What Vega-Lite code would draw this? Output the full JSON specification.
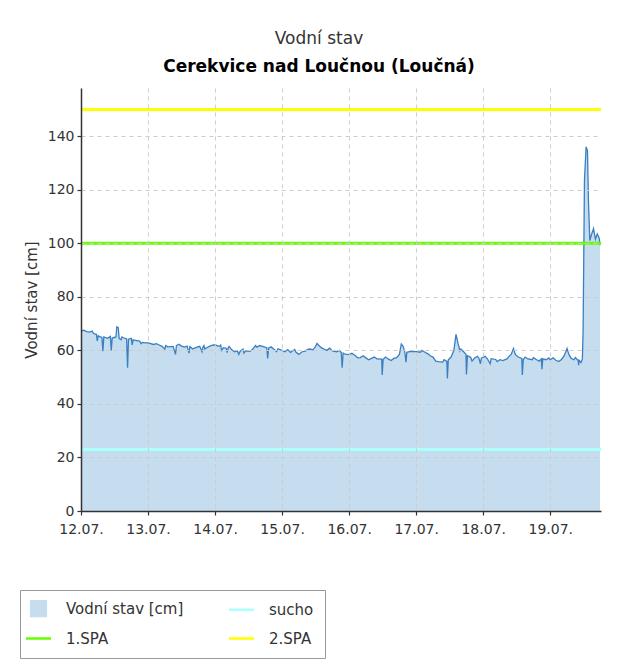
{
  "$schema": "https://vega.github.io/schema/vega-lite/v6.json",
  "width": 520,
  "height": 423,
  "autosize": {"type": "none"},
  "padding": {"left": 81, "top": 88, "right": 30, "bottom": 155},
  "background": "white",
  "title": {
    "text": "Vodní stav",
    "subtitle": "Cerekvice nad Loučnou (Loučná)",
    "font": "DejaVu Sans",
    "fontSize": 17,
    "fontWeight": "normal",
    "color": "#333333",
    "subtitleFont": "DejaVu Sans",
    "subtitleFontSize": 17,
    "subtitleFontWeight": "bold",
    "subtitleColor": "#000000",
    "anchor": "middle",
    "frame": "group",
    "dx": -22,
    "offset": 12,
    "subtitlePadding": 11
  },
  "config": {
    "view": {"stroke": null},
    "axis": {
      "labelFont": "DejaVu Sans",
      "titleFont": "DejaVu Sans",
      "labelColor": "#333333",
      "titleColor": "#333333",
      "domainColor": "#333333",
      "domainWidth": 1.5,
      "gridColor": "#cccccc",
      "gridDash": [4, 4]
    }
  },
  "datasets": {
    "level": [
      {"t": "2024-07-12T00:00", "v": 67.3},
      {"t": "2024-07-12T02:00", "v": 67.0},
      {"t": "2024-07-12T04:00", "v": 67.2},
      {"t": "2024-07-12T04:30", "v": 66.3},
      {"t": "2024-07-12T05:30", "v": 66.0},
      {"t": "2024-07-12T06:30", "v": 65.2},
      {"t": "2024-07-12T07:30", "v": 64.8},
      {"t": "2024-07-12T07:50", "v": 59.7},
      {"t": "2024-07-12T08:10", "v": 65.0},
      {"t": "2024-07-12T09:30", "v": 64.5},
      {"t": "2024-07-12T10:30", "v": 65.2},
      {"t": "2024-07-12T10:50", "v": 60.0},
      {"t": "2024-07-12T11:10", "v": 64.6},
      {"t": "2024-07-12T12:30", "v": 65.0},
      {"t": "2024-07-12T12:50", "v": 68.8},
      {"t": "2024-07-12T13:20", "v": 68.5},
      {"t": "2024-07-12T13:40", "v": 64.5},
      {"t": "2024-07-12T15:00", "v": 64.8},
      {"t": "2024-07-12T16:20", "v": 64.3},
      {"t": "2024-07-12T16:40", "v": 53.5},
      {"t": "2024-07-12T17:00", "v": 64.2},
      {"t": "2024-07-12T19:00", "v": 63.8},
      {"t": "2024-07-12T21:00", "v": 63.5},
      {"t": "2024-07-12T21:30", "v": 62.5},
      {"t": "2024-07-12T23:00", "v": 62.8},
      {"t": "2024-07-13T00:00", "v": 62.8},
      {"t": "2024-07-13T02:00", "v": 62.2},
      {"t": "2024-07-13T04:00", "v": 62.0},
      {"t": "2024-07-13T05:00", "v": 61.5},
      {"t": "2024-07-13T07:00", "v": 61.3},
      {"t": "2024-07-13T09:00", "v": 61.5},
      {"t": "2024-07-13T09:50", "v": 58.5},
      {"t": "2024-07-13T10:10", "v": 61.8},
      {"t": "2024-07-13T12:00", "v": 61.6},
      {"t": "2024-07-13T13:00", "v": 61.2},
      {"t": "2024-07-13T14:00", "v": 61.6},
      {"t": "2024-07-13T14:40", "v": 59.0},
      {"t": "2024-07-13T15:00", "v": 61.4},
      {"t": "2024-07-13T17:00", "v": 61.0},
      {"t": "2024-07-13T18:30", "v": 61.5},
      {"t": "2024-07-13T19:20", "v": 59.5},
      {"t": "2024-07-13T19:40", "v": 61.3},
      {"t": "2024-07-13T21:00", "v": 61.0},
      {"t": "2024-07-13T22:30", "v": 61.8},
      {"t": "2024-07-13T23:30", "v": 62.0},
      {"t": "2024-07-14T00:00", "v": 62.0},
      {"t": "2024-07-14T01:30", "v": 61.5},
      {"t": "2024-07-14T03:00", "v": 61.0},
      {"t": "2024-07-14T04:00", "v": 60.8},
      {"t": "2024-07-14T04:20", "v": 59.2},
      {"t": "2024-07-14T04:40", "v": 60.8},
      {"t": "2024-07-14T06:00", "v": 60.2},
      {"t": "2024-07-14T07:00", "v": 59.5},
      {"t": "2024-07-14T08:00", "v": 59.8},
      {"t": "2024-07-14T08:30", "v": 58.5},
      {"t": "2024-07-14T09:00", "v": 59.7},
      {"t": "2024-07-14T11:00", "v": 59.8},
      {"t": "2024-07-14T12:30", "v": 59.6},
      {"t": "2024-07-14T13:30", "v": 60.5},
      {"t": "2024-07-14T15:00", "v": 61.2},
      {"t": "2024-07-14T16:00", "v": 61.8},
      {"t": "2024-07-14T17:00", "v": 61.5},
      {"t": "2024-07-14T18:30", "v": 61.0},
      {"t": "2024-07-14T18:50", "v": 57.0},
      {"t": "2024-07-14T19:10", "v": 60.8},
      {"t": "2024-07-14T21:00", "v": 60.5},
      {"t": "2024-07-14T22:30", "v": 60.6},
      {"t": "2024-07-14T23:30", "v": 60.2},
      {"t": "2024-07-15T00:00", "v": 60.0},
      {"t": "2024-07-15T01:00", "v": 59.5},
      {"t": "2024-07-15T03:00", "v": 59.2},
      {"t": "2024-07-15T04:30", "v": 60.3},
      {"t": "2024-07-15T05:00", "v": 59.3},
      {"t": "2024-07-15T07:00", "v": 59.4},
      {"t": "2024-07-15T08:30", "v": 59.8},
      {"t": "2024-07-15T10:00", "v": 60.5},
      {"t": "2024-07-15T12:00", "v": 61.5},
      {"t": "2024-07-15T12:30", "v": 62.6},
      {"t": "2024-07-15T13:00", "v": 62.0},
      {"t": "2024-07-15T14:00", "v": 61.0},
      {"t": "2024-07-15T15:00", "v": 60.5},
      {"t": "2024-07-15T16:00", "v": 60.0},
      {"t": "2024-07-15T18:00", "v": 59.8},
      {"t": "2024-07-15T19:30", "v": 59.5},
      {"t": "2024-07-15T21:10", "v": 59.2},
      {"t": "2024-07-15T21:30", "v": 53.5},
      {"t": "2024-07-15T21:50", "v": 59.0},
      {"t": "2024-07-15T22:30", "v": 58.6},
      {"t": "2024-07-15T23:30", "v": 58.5},
      {"t": "2024-07-16T00:00", "v": 58.4},
      {"t": "2024-07-16T02:30", "v": 57.8},
      {"t": "2024-07-16T04:00", "v": 57.3},
      {"t": "2024-07-16T06:00", "v": 57.2},
      {"t": "2024-07-16T08:00", "v": 57.0},
      {"t": "2024-07-16T10:00", "v": 56.8},
      {"t": "2024-07-16T11:40", "v": 56.7},
      {"t": "2024-07-16T11:50", "v": 50.8},
      {"t": "2024-07-16T12:10", "v": 56.6},
      {"t": "2024-07-16T14:00", "v": 56.8},
      {"t": "2024-07-16T16:00", "v": 57.0},
      {"t": "2024-07-16T17:00", "v": 57.3},
      {"t": "2024-07-16T18:00", "v": 58.5},
      {"t": "2024-07-16T18:40", "v": 62.4},
      {"t": "2024-07-16T19:20", "v": 61.5},
      {"t": "2024-07-16T20:00", "v": 59.0},
      {"t": "2024-07-16T20:20", "v": 55.6},
      {"t": "2024-07-16T20:40", "v": 59.3},
      {"t": "2024-07-16T22:00", "v": 59.6},
      {"t": "2024-07-17T00:00", "v": 59.5},
      {"t": "2024-07-17T01:30", "v": 59.3},
      {"t": "2024-07-17T03:00", "v": 59.4},
      {"t": "2024-07-17T04:30", "v": 58.5},
      {"t": "2024-07-17T06:00", "v": 57.5},
      {"t": "2024-07-17T07:00", "v": 56.0},
      {"t": "2024-07-17T08:00", "v": 55.8},
      {"t": "2024-07-17T09:30", "v": 55.6},
      {"t": "2024-07-17T11:00", "v": 55.9},
      {"t": "2024-07-17T11:10", "v": 49.5},
      {"t": "2024-07-17T11:30", "v": 56.5},
      {"t": "2024-07-17T12:30", "v": 57.5},
      {"t": "2024-07-17T13:30", "v": 60.0},
      {"t": "2024-07-17T14:15", "v": 66.0},
      {"t": "2024-07-17T15:00", "v": 62.5},
      {"t": "2024-07-17T15:40", "v": 59.8},
      {"t": "2024-07-17T17:00", "v": 59.5},
      {"t": "2024-07-17T17:50", "v": 58.5},
      {"t": "2024-07-17T18:00", "v": 51.0},
      {"t": "2024-07-17T18:20", "v": 58.0},
      {"t": "2024-07-17T19:30", "v": 57.4},
      {"t": "2024-07-17T21:00", "v": 57.2},
      {"t": "2024-07-17T22:30", "v": 57.0},
      {"t": "2024-07-17T23:00", "v": 55.0},
      {"t": "2024-07-17T23:20", "v": 57.1},
      {"t": "2024-07-18T01:30", "v": 56.8},
      {"t": "2024-07-18T02:30", "v": 55.0},
      {"t": "2024-07-18T02:50", "v": 56.9},
      {"t": "2024-07-18T04:30", "v": 56.6},
      {"t": "2024-07-18T06:00", "v": 56.5},
      {"t": "2024-07-18T07:00", "v": 56.2},
      {"t": "2024-07-18T08:30", "v": 56.8},
      {"t": "2024-07-18T10:00", "v": 58.5},
      {"t": "2024-07-18T10:50", "v": 60.7},
      {"t": "2024-07-18T11:30", "v": 58.5},
      {"t": "2024-07-18T12:30", "v": 57.5},
      {"t": "2024-07-18T13:50", "v": 57.0},
      {"t": "2024-07-18T14:00", "v": 50.8},
      {"t": "2024-07-18T14:20", "v": 56.5},
      {"t": "2024-07-18T16:00", "v": 56.8},
      {"t": "2024-07-18T17:30", "v": 56.5},
      {"t": "2024-07-18T19:00", "v": 56.6},
      {"t": "2024-07-18T20:50", "v": 56.8},
      {"t": "2024-07-18T21:00", "v": 53.0},
      {"t": "2024-07-18T21:20", "v": 56.8},
      {"t": "2024-07-18T22:30", "v": 56.5},
      {"t": "2024-07-19T00:00", "v": 56.5},
      {"t": "2024-07-19T02:00", "v": 56.3},
      {"t": "2024-07-19T04:00", "v": 56.6},
      {"t": "2024-07-19T05:00", "v": 58.0},
      {"t": "2024-07-19T06:00", "v": 60.7},
      {"t": "2024-07-19T06:40", "v": 58.5},
      {"t": "2024-07-19T07:30", "v": 57.0},
      {"t": "2024-07-19T08:30", "v": 56.5},
      {"t": "2024-07-19T10:00", "v": 56.2},
      {"t": "2024-07-19T10:10", "v": 54.5},
      {"t": "2024-07-19T10:20", "v": 56.3},
      {"t": "2024-07-19T11:30", "v": 56.8},
      {"t": "2024-07-19T11:45", "v": 66.9},
      {"t": "2024-07-19T12:15", "v": 123.5},
      {"t": "2024-07-19T12:50", "v": 136.0},
      {"t": "2024-07-19T13:20", "v": 134.5},
      {"t": "2024-07-19T13:40", "v": 116.0},
      {"t": "2024-07-19T14:10", "v": 101.0},
      {"t": "2024-07-19T14:40", "v": 103.0},
      {"t": "2024-07-19T15:30", "v": 105.5},
      {"t": "2024-07-19T16:10", "v": 101.5},
      {"t": "2024-07-19T16:50", "v": 103.5},
      {"t": "2024-07-19T17:30", "v": 102.0},
      {"t": "2024-07-19T17:50", "v": 99.3},
      {"t": "2024-07-12T01:00", "v": 67.5},
      {"t": "2024-07-12T03:00", "v": 66.8},
      {"t": "2024-07-12T05:50", "v": 63.5},
      {"t": "2024-07-12T06:10", "v": 65.5},
      {"t": "2024-07-12T14:20", "v": 64.0},
      {"t": "2024-07-12T14:40", "v": 65.0},
      {"t": "2024-07-12T18:00", "v": 64.5},
      {"t": "2024-07-12T18:20", "v": 62.0},
      {"t": "2024-07-12T18:40", "v": 64.0},
      {"t": "2024-07-12T22:00", "v": 63.0},
      {"t": "2024-07-13T03:00", "v": 62.5},
      {"t": "2024-07-13T06:00", "v": 60.5},
      {"t": "2024-07-13T06:20", "v": 61.8},
      {"t": "2024-07-13T11:00", "v": 62.3},
      {"t": "2024-07-13T16:00", "v": 60.5},
      {"t": "2024-07-13T20:00", "v": 61.8},
      {"t": "2024-07-13T20:20", "v": 60.5},
      {"t": "2024-07-14T02:00", "v": 62.0},
      {"t": "2024-07-14T02:20", "v": 60.0},
      {"t": "2024-07-14T05:00", "v": 61.5},
      {"t": "2024-07-14T10:00", "v": 60.5},
      {"t": "2024-07-14T10:20", "v": 59.0},
      {"t": "2024-07-14T14:30", "v": 61.8},
      {"t": "2024-07-14T20:00", "v": 61.3},
      {"t": "2024-07-14T22:00", "v": 59.5},
      {"t": "2024-07-15T02:00", "v": 60.3},
      {"t": "2024-07-15T06:00", "v": 58.5},
      {"t": "2024-07-15T09:00", "v": 60.3},
      {"t": "2024-07-15T11:00", "v": 60.2},
      {"t": "2024-07-15T17:00", "v": 60.8},
      {"t": "2024-07-15T20:30", "v": 60.0},
      {"t": "2024-07-16T01:00", "v": 58.9},
      {"t": "2024-07-16T03:00", "v": 57.2},
      {"t": "2024-07-16T05:00", "v": 58.0},
      {"t": "2024-07-16T07:00", "v": 56.5},
      {"t": "2024-07-16T09:00", "v": 57.5},
      {"t": "2024-07-16T13:00", "v": 57.5},
      {"t": "2024-07-16T15:00", "v": 56.2},
      {"t": "2024-07-17T02:00", "v": 60.0},
      {"t": "2024-07-17T05:00", "v": 58.0},
      {"t": "2024-07-17T10:00", "v": 56.5},
      {"t": "2024-07-17T16:00", "v": 60.5},
      {"t": "2024-07-17T20:00", "v": 56.0},
      {"t": "2024-07-17T22:00", "v": 57.8},
      {"t": "2024-07-18T00:40", "v": 57.8},
      {"t": "2024-07-18T05:00", "v": 55.8},
      {"t": "2024-07-18T09:00", "v": 57.5},
      {"t": "2024-07-18T15:00", "v": 57.5},
      {"t": "2024-07-18T18:00", "v": 57.3},
      {"t": "2024-07-18T20:00", "v": 56.0},
      {"t": "2024-07-18T23:30", "v": 57.2},
      {"t": "2024-07-19T01:00", "v": 57.2},
      {"t": "2024-07-19T03:00", "v": 55.8},
      {"t": "2024-07-19T09:00", "v": 57.3},
      {"t": "2024-07-19T11:00", "v": 55.5}
    ],
    "thresholds": [
      {"series": "sucho", "value": 23},
      {"series": "1.SPA", "value": 100},
      {"series": "2.SPA", "value": 150}
    ]
  },
  "layer": [
    {
      "data": {"name": "level"},
      "mark": {"type": "area", "opacity": 1},
      "encoding": {
        "x": {
          "field": "t",
          "type": "temporal",
          "scale": {
            "domain": [
              {"year": 2024, "month": 7, "date": 12, "hours": 0, "minutes": 0},
              {"year": 2024, "month": 7, "date": 19, "hours": 18, "minutes": 10}
            ],
            "nice": false
          },
          "axis": {
            "title": null,
            "format": "%d.%m.",
            "tickCount": {"interval": "day", "step": 1},
            "labelFontSize": 14,
            "labelPadding": 7,
            "ticks": true,
            "tickSize": 4,
            "tickColor": "#333333",
            "tickWidth": 1.2,
            "grid": true,
            "zindex": 1,
            "labelFlush": false,
            "labelOverlap": false
          }
        },
        "y": {
          "field": "v",
          "type": "quantitative",
          "scale": {"domain": [0, 158], "nice": false},
          "axis": {
            "title": "Vodní stav [cm]",
            "titleFontSize": 15,
            "titleFontWeight": "normal",
            "titlePadding": 8,
            "values": [0, 10, 20, 30, 40, 50, 60, 70, 80, 90, 100, 110, 120, 130, 140, 150],
            "labelExpr": "datum.value % 20 === 0 ? datum.label : ''",
            "labelFontSize": 14,
            "labelPadding": 3,
            "ticks": true,
            "tickSize": 4,
            "tickColor": "#333333",
            "tickWidth": 1.2,
            "zindex": 1,
            "grid": true,
            "gridOpacity": {"condition": {"test": "datum.value % 20 === 0 && datum.value > 0", "value": 1}, "value": 0}
          }
        },
        "color": {
          "datum": "Vodní stav [cm]",
          "type": "nominal",
          "scale": {
            "domain": ["Vodní stav [cm]", "sucho", "1.SPA", "2.SPA"],
            "range": ["#c6dcef", "#aaffff", "#66ff00", "#ffff00"]
          },
          "legend": {
            "title": null,
            "orient": "none",
            "legendX": -61,
            "legendY": 502,
            "columns": 2,
            "direction": "horizontal",
            "labelFont": "DejaVu Sans",
            "labelFontSize": 15,
            "labelColor": "#333333",
            "labelOffset": 20,
            "labelLimit": 300,
            "symbolSize": 625,
            "symbolStrokeWidth": 2.5,
            "columnPadding": 40,
            "rowPadding": 12,
            "padding": 11,
            "strokeColor": "#999999",
            "fillColor": "white",
            "symbolOpacity": 1,
            "encode": {
              "symbols": {
                "update": {
                  "shape": {"signal": "datum.value === 'Vodní stav [cm]' ? 'square' : 'stroke'"},
                  "size": {"signal": "datum.value === 'Vodní stav [cm]' ? 256 : 625"},
                  "fill": {"signal": "datum.value === 'Vodní stav [cm]' ? '#c6dcef' : 'transparent'"},
                  "stroke": {"signal": "datum.value === 'Vodní stav [cm]' ? '#4f7399' : scale('color', datum.value)"},
                  "strokeWidth": {"signal": "datum.value === 'Vodní stav [cm]' ? 1.2 : 2.5"},
                  "strokeOpacity": {"value": 1},
                  "opacity": {"value": 1}
                }
              }
            }
          }
        }
      }
    },
    {
      "data": {"name": "level"},
      "mark": {"type": "line", "color": "#3a7fc0", "strokeWidth": 1.3},
      "encoding": {
        "x": {"field": "t", "type": "temporal"},
        "y": {"field": "v", "type": "quantitative"}
      }
    },
    {
      "data": {"name": "thresholds"},
      "mark": {"type": "rule", "strokeWidth": 3},
      "encoding": {
        "y": {"field": "value", "type": "quantitative"},
        "color": {
          "field": "series",
          "type": "nominal",
          "legend": {
            "title": null,
            "orient": "none",
            "legendX": -61,
            "legendY": 502,
            "columns": 2,
            "direction": "horizontal",
            "labelFont": "DejaVu Sans",
            "labelFontSize": 15,
            "labelColor": "#333333",
            "labelOffset": 20,
            "labelLimit": 300,
            "symbolSize": 625,
            "symbolStrokeWidth": 2.5,
            "columnPadding": 40,
            "rowPadding": 12,
            "padding": 11,
            "strokeColor": "#999999",
            "fillColor": "white",
            "symbolOpacity": 1,
            "encode": {
              "symbols": {
                "update": {
                  "shape": {"signal": "datum.value === 'Vodní stav [cm]' ? 'square' : 'stroke'"},
                  "size": {"signal": "datum.value === 'Vodní stav [cm]' ? 256 : 625"},
                  "fill": {"signal": "datum.value === 'Vodní stav [cm]' ? '#c6dcef' : 'transparent'"},
                  "stroke": {"signal": "datum.value === 'Vodní stav [cm]' ? '#4f7399' : scale('color', datum.value)"},
                  "strokeWidth": {"signal": "datum.value === 'Vodní stav [cm]' ? 1.2 : 2.5"},
                  "strokeOpacity": {"value": 1},
                  "opacity": {"value": 1}
                }
              }
            }
          }
        }
      }
    }
  ]
}
